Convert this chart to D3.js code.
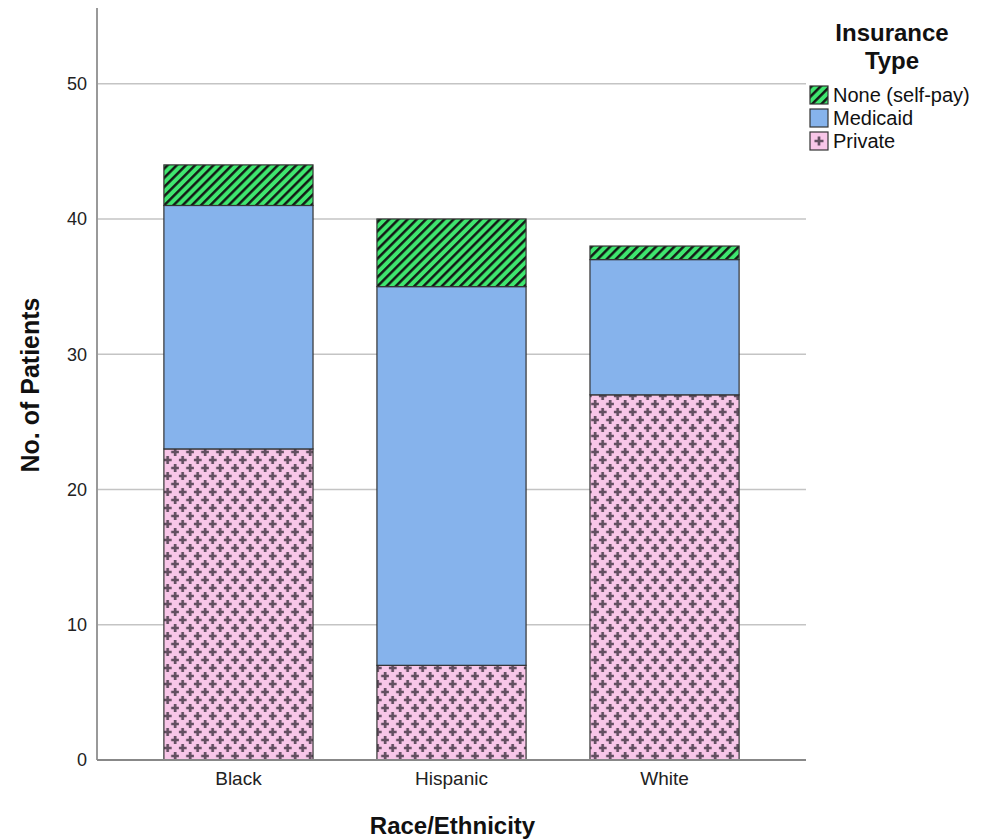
<!DOCTYPE html>
<html>
<head>
<meta charset="utf-8">
<script src="https://cdn.jsdelivr.net/npm/d3@7/dist/d3.min.js"></script>
<style>
  html, body { margin: 0; padding: 0; background: #fff; }
  svg { display: block; font-family: "Liberation Sans", Arial, sans-serif; }
</style>
</head>
<body>
<svg id="chart" width="988" height="839"></svg>
<script>
// ---- Data ----
const categories = ["Black", "Hispanic", "White"];
const seriesNames = ["Private", "Medicaid", "None (self-pay)"];
const privateVals = [23, 7, 27];
const medicaidVals = [18, 28, 10];
const noneVals = [3, 5, 1];
const yTicks = [0, 10, 20, 30, 40, 50];
const legendOrder = ["None (self-pay)", "Medicaid", "Private"];

const rows = categories.map((c, i) => ({
  cat: c,
  "Private": privateVals[i],
  "Medicaid": medicaidVals[i],
  "None (self-pay)": noneVals[i]
}));

const svg = d3.select("#chart");
const plotLeft = 97, plotRight = 806, plotBottom = 760, plotTop = 8;

const x = d3.scaleBand().domain(categories).range([plotLeft, plotRight])
  .paddingInner(0.30).paddingOuter(0.314);
const y = d3.scaleLinear().domain([0, 55.6]).range([plotBottom, plotTop]);

// ---- Patterns ----
const defs = svg.append("defs");
const hatch = defs.append("pattern").attr("id", "hatch")
  .attr("patternUnits", "userSpaceOnUse").attr("width", 6.5).attr("height", 6.5)
  .attr("patternTransform", "rotate(45)");
hatch.append("rect").attr("width", 6.5).attr("height", 6.5).attr("fill", "#3fe66f");
hatch.append("line").attr("x1", 1.3).attr("y1", 0).attr("x2", 1.3).attr("y2", 6.5)
  .attr("stroke", "#111").attr("stroke-width", 2.4);

const cross = defs.append("pattern").attr("id", "cross")
  .attr("patternUnits", "userSpaceOnUse").attr("width", 15).attr("height", 16)
  .attr("x", x("Black")).attr("y", plotBottom);
cross.append("rect").attr("width", 15).attr("height", 16).attr("fill", "#f8c6e8");
[[3.75, 4], [11.25, 12]].forEach(([cx, cy]) => {
  cross.append("path")
    .attr("d", `M${cx - 4},${cy}H${cx + 4}M${cx},${cy - 4}V${cy + 4}`)
    .attr("stroke", "#634f61").attr("stroke-width", 2.7);
});

const fills = {
  "None (self-pay)": "url(#hatch)",
  "Medicaid": "#86b3ec",
  "Private": "url(#cross)"
};

// ---- Gridlines ----
svg.append("g").selectAll("line").data(yTicks.filter(t => t > 0)).join("line")
  .attr("x1", plotLeft).attr("x2", plotRight)
  .attr("y1", d => y(d)).attr("y2", d => y(d))
  .attr("stroke", "#c4c4c4").attr("stroke-width", 1.5);

// ---- Bars ----
const stack = d3.stack().keys(seriesNames)(rows);
svg.append("g").selectAll("g").data(stack).join("g")
  .attr("fill", d => fills[d.key])
  .selectAll("rect").data(d => d).join("rect")
  .attr("x", d => x(d.data.cat))
  .attr("width", x.bandwidth())
  .attr("y", d => y(d[1]))
  .attr("height", d => y(d[0]) - y(d[1]))
  .attr("stroke", "#333").attr("stroke-width", 1.2);

// ---- Axes ----
const yAxis = svg.append("g").attr("transform", `translate(${plotLeft},0)`)
  .call(d3.axisLeft(y).tickValues(yTicks).tickSize(0).tickPadding(10).tickFormat(d3.format("d")));
yAxis.select(".domain").remove();
yAxis.selectAll("text").attr("font-size", 18).attr("fill", "#222")
  .attr("font-family", "'Liberation Sans', Arial, sans-serif");
svg.append("line").attr("x1", plotLeft).attr("x2", plotLeft)
  .attr("y1", plotTop).attr("y2", plotBottom)
  .attr("stroke", "#999").attr("stroke-width", 2);

const xAxis = svg.append("g").attr("transform", `translate(0,${plotBottom})`)
  .call(d3.axisBottom(x).tickSize(0).tickPadding(12));
xAxis.select(".domain").remove();
xAxis.selectAll("text").attr("font-size", 19).attr("fill", "#222")
  .attr("font-family", "'Liberation Sans', Arial, sans-serif");
svg.append("line").attr("x1", plotLeft).attr("x2", plotRight)
  .attr("y1", plotBottom).attr("y2", plotBottom)
  .attr("stroke", "#888").attr("stroke-width", 2);

// ---- Axis titles ----
svg.append("text").attr("x", (plotLeft + plotRight) / 2 + 1).attr("y", 834)
  .attr("text-anchor", "middle").attr("font-size", 24).attr("font-weight", "bold")
  .attr("fill", "#111").text("Race/Ethnicity");
svg.append("text").attr("transform", "translate(39,385) rotate(-90)")
  .attr("text-anchor", "middle").attr("font-size", 25).attr("font-weight", "bold")
  .attr("fill", "#111").text("No. of Patients");

// ---- Legend ----
const lg = svg.append("g");
lg.append("text").attr("x", 892).attr("y", 41).attr("text-anchor", "middle")
  .attr("font-size", 24).attr("font-weight", "bold").attr("fill", "#111").text("Insurance");
lg.append("text").attr("x", 892).attr("y", 69).attr("text-anchor", "middle")
  .attr("font-size", 24).attr("font-weight", "bold").attr("fill", "#111").text("Type");

const swatchFills = {
  "None (self-pay)": "url(#hatch)",
  "Medicaid": "#86b3ec",
  "Private": "#f8c6e8"
};
const items = lg.selectAll("g.item").data(legendOrder).join("g")
  .attr("class", "item")
  .attr("transform", (d, i) => `translate(810,${86 + i * 23})`);
items.append("rect").attr("width", 18).attr("height", 18)
  .attr("fill", d => swatchFills[d]).attr("stroke", "#333").attr("stroke-width", 1.2);
items.filter(d => d === "Private").append("path")
  .attr("d", "M4.5,9H13.5M9,4.5V13.5").attr("stroke", "#634f61").attr("stroke-width", 2.7);
items.append("text").attr("x", 23).attr("y", 9).attr("dy", "0.35em")
  .attr("font-size", 20).attr("fill", "#111").text(d => d);
</script>
</body>
</html>
